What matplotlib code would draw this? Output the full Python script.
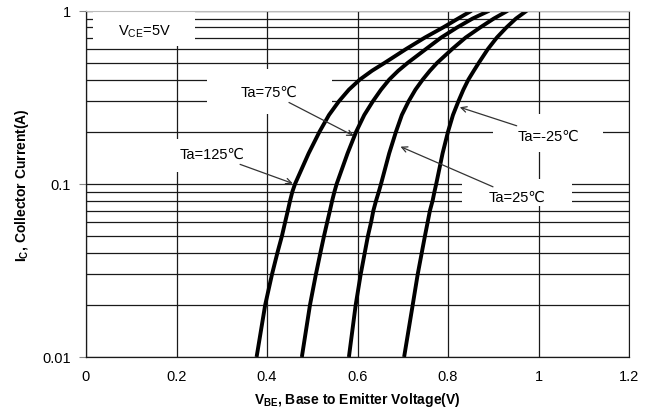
import matplotlib
matplotlib.use("Agg")
import matplotlib.pyplot as plt
from matplotlib.patches import Rectangle
from matplotlib.ticker import FixedLocator, FixedFormatter, LogLocator, NullFormatter

plt.rcParams['font.family'] = ['Liberation Sans', 'DejaVu Sans']
plt.rcParams['mathtext.fontset'] = 'custom'
plt.rcParams['mathtext.rm'] = 'Liberation Sans'
plt.rcParams['mathtext.bf'] = 'Liberation Sans:bold'

# collector current (A), and V_BE (V) at that current
ic = [0.01, 0.02, 0.03, 0.04, 0.05, 0.06, 0.07, 0.08, 0.09, 0.1, 0.15,
      0.2, 0.25, 0.3, 0.35, 0.4, 0.45, 0.5, 0.6, 0.7, 0.8, 0.9, 1.0]
vbe_125 = [0.377, 0.396, 0.411, 0.423, 0.433, 0.440, 0.446, 0.451, 0.456, 0.462, 0.492,
           0.516, 0.537, 0.559, 0.581, 0.605, 0.632, 0.660, 0.707, 0.749, 0.789, 0.822, 0.852]
vbe_75 = [0.477, 0.495, 0.508, 0.518, 0.526, 0.533, 0.539, 0.544, 0.549, 0.554, 0.578,
          0.597, 0.615, 0.634, 0.652, 0.670, 0.690, 0.711, 0.751, 0.785, 0.820, 0.854, 0.891]
vbe_25 = [0.581, 0.596, 0.607, 0.616, 0.623, 0.630, 0.635, 0.641, 0.647, 0.652, 0.670,
          0.685, 0.698, 0.713, 0.728, 0.744, 0.760, 0.776, 0.809, 0.839, 0.871, 0.901, 0.932]
vbe_m25 = [0.703, 0.722, 0.733, 0.742, 0.749, 0.755, 0.760, 0.766, 0.770, 0.774, 0.788,
           0.800, 0.811, 0.823, 0.834, 0.845, 0.857, 0.868, 0.888, 0.908, 0.929, 0.950, 0.974]

x_ticks = [0, 0.2, 0.4, 0.6, 0.8, 1.0, 1.2]
x_labels = ["0", "0.2", "0.4", "0.6", "0.8", "1", "1.2"]
y_ticks = [0.01, 0.1, 1]
y_labels = ["0.01", "0.1", "1"]

# label text, text position, arrow tip
labels = ["Ta=125\u2103", "Ta=75\u2103", "Ta=25\u2103", "Ta=-25\u2103"]
label_pos = [(0.278, 0.1485), (0.404, 0.339), (0.952, 0.0838), (1.021, 0.189)]
arrow_tip = [(0.457, 0.1005), (0.592, 0.189), (0.695, 0.164), (0.826, 0.277)]

fig = plt.figure(figsize=(6.59, 4.14), dpi=100)
ax = fig.add_axes([0.1305, 0.1353, 0.824, 0.8364])

ax.set_yscale('log')
ax.set_xlim(0, 1.2)
ax.set_ylim(0.01, 1)

ax.xaxis.set_major_locator(FixedLocator(x_ticks))
ax.xaxis.set_major_formatter(FixedFormatter(x_labels))
ax.yaxis.set_major_locator(FixedLocator(y_ticks))
ax.yaxis.set_major_formatter(FixedFormatter(y_labels))
ax.yaxis.set_minor_locator(LogLocator(base=10, subs=range(2, 10)))
ax.yaxis.set_minor_formatter(NullFormatter())

ax.set_axisbelow(True)
ax.grid(True, which='major', axis='both', color='#1a1a1a', lw=0.9)
ax.grid(True, which='minor', axis='y', color='#1a1a1a', lw=0.9)
ax.tick_params(axis='y', which='major', length=5, width=0.8, color='#888888', pad=6, labelsize=10.5)
ax.tick_params(axis='y', which='minor', length=0)
ax.tick_params(axis='x', which='major', length=0, pad=9, labelsize=10.5)

for s in ['left', 'bottom']:
    ax.spines[s].set_color('#1a1a1a')
    ax.spines[s].set_linewidth(0.9)
ax.spines['top'].set_color('#bbbbbb')
ax.spines['right'].set_color('#1a1a1a')

# white boxes that cut the grid behind the labels (axes fractions)
boxes = [(0.013, 0.898, 0.188, 0.102), (0.223, 0.702, 0.230, 0.130),
         (0.145, 0.534, 0.172, 0.096), (0.750, 0.592, 0.202, 0.110),
         (0.692, 0.436, 0.203, 0.078)]
for bx, by, bw, bh in boxes:
    ax.add_patch(Rectangle((bx, by), bw, bh, transform=ax.transAxes,
                           facecolor='white', edgecolor='none', zorder=1))

for v in [vbe_125, vbe_75, vbe_25, vbe_m25]:
    ax.plot(v, ic, color='black', lw=2.8, zorder=2, solid_capstyle='butt',
            solid_joinstyle='round')

for txt, pos, tip in zip(labels, label_pos, arrow_tip):
    ax.annotate(txt, xy=tip, xytext=pos, ha='center', va='center', fontsize=10.5,
                zorder=3,
                arrowprops=dict(arrowstyle='->', color='#333333', lw=0.9,
                                shrinkA=1, shrinkB=0, mutation_scale=10))

ax.text(0.059, 0.941, r"V$_{\mathrm{CE}}$=5V", transform=ax.transAxes,
        ha='left', va='center', fontsize=10.5, zorder=3)

ax.set_xlabel(r"V$_{\mathbf{BE}}$, Base to Emitter Voltage(V)", fontsize=10,
              fontweight='bold', labelpad=5)
ax.set_ylabel(r"I$_{\mathbf{C}}$, Collector Current(A)", fontsize=10,
              fontweight='bold', labelpad=8)

fig.savefig('out.png', dpi=100)
